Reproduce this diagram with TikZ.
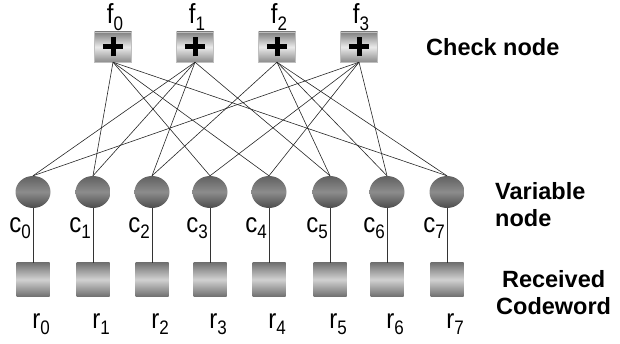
\documentclass[tikz,border=0pt]{standalone}
\usepackage{fontspec}
\usepackage{graphicx}
\setmainfont{Liberation Sans}
\usetikzlibrary{shapes.geometric}
\tikzset{
  checkbox/.style={rectangle, minimum width=37pt, minimum height=30pt, inner sep=0pt,
    top color=black!50, bottom color=black!45, middle color=black!8, draw=black!25, line width=0.4pt,
    path picture={
      \draw[line width=5pt, black] ([xshift=-10pt]path picture bounding box.center) -- ([xshift=10pt]path picture bounding box.center);
      \draw[line width=5pt, black] ([yshift=-9.5pt]path picture bounding box.center) -- ([yshift=9.5pt]path picture bounding box.center);
    }},
  varnode/.style={ellipse, minimum width=35pt, minimum height=32pt, inner sep=0pt,
    top color=black!62, bottom color=black!70, middle color=black!45},
  recvbox/.style={rectangle, minimum width=33pt, minimum height=33pt, inner sep=0pt,
    top color=black!55, bottom color=black!55, middle color=black!18},
  edge/.style={draw=black!85, line width=0.6pt},
  link/.style={draw=black!80, line width=0.9pt},
  idxlabel/.style={inner sep=0pt, font=\fontsize{24}{24}\selectfont},
  sidelabel/.style={inner sep=0pt, font=\fontsize{23.5}{27}\selectfont\bfseries}
}
\newcommand{\idx}[2]{\scalebox{1}[1.15]{#1\raisebox{-0.45ex}{\fontsize{17}{17}\selectfont #2}}}
\begin{document}
\begin{tikzpicture}[x=1pt,y=-1pt]
\useasboundingbox (0,0) rectangle (620,344);
% check nodes
\foreach \i/\x in {0/113,1/195,2/277,3/359}{
  \node[checkbox] (f\i) at (\x,47) {};
  \node[idxlabel] (fl\i) at (\x+2,17) {\idx{f}{\i}};
}
% variable nodes, received boxes
\foreach \i/\x in {0/33,1/93,2/152,3/210,4/269,5/330,6/387,7/447}{
  \node[varnode] (c\i) at (\x,192) {};
  \node[recvbox] (s\i) at (\x,279.5) {};
  \draw[link] (c\i.south) -- (s\i.north);
  \node[idxlabel, anchor=east] (cl\i) at (\x-2,228) {\idx{c}{\i}};
  \node[idxlabel] (rl\i) at (\x+8,324) {\idx{r}{\i}};
}
% Tanner graph edges
\foreach \f/\c in {0/1,0/3,0/4,0/7, 1/0,1/1,1/2,1/5, 2/2,2/5,2/6,2/7, 3/0,3/3,3/4,3/6}{
  \draw[edge] (f\f.south) -- (c\c.north);
}
% side labels
\node[sidelabel, anchor=west] (lcheck) at (426,47) {Check node};
\node[sidelabel, anchor=west, align=left] (lvar) at (495,205) {Variable\\node};
\node[sidelabel, anchor=west, align=center] (lrecv) at (496,293) {Received\\Codeword};
\end{tikzpicture}
\end{document}
